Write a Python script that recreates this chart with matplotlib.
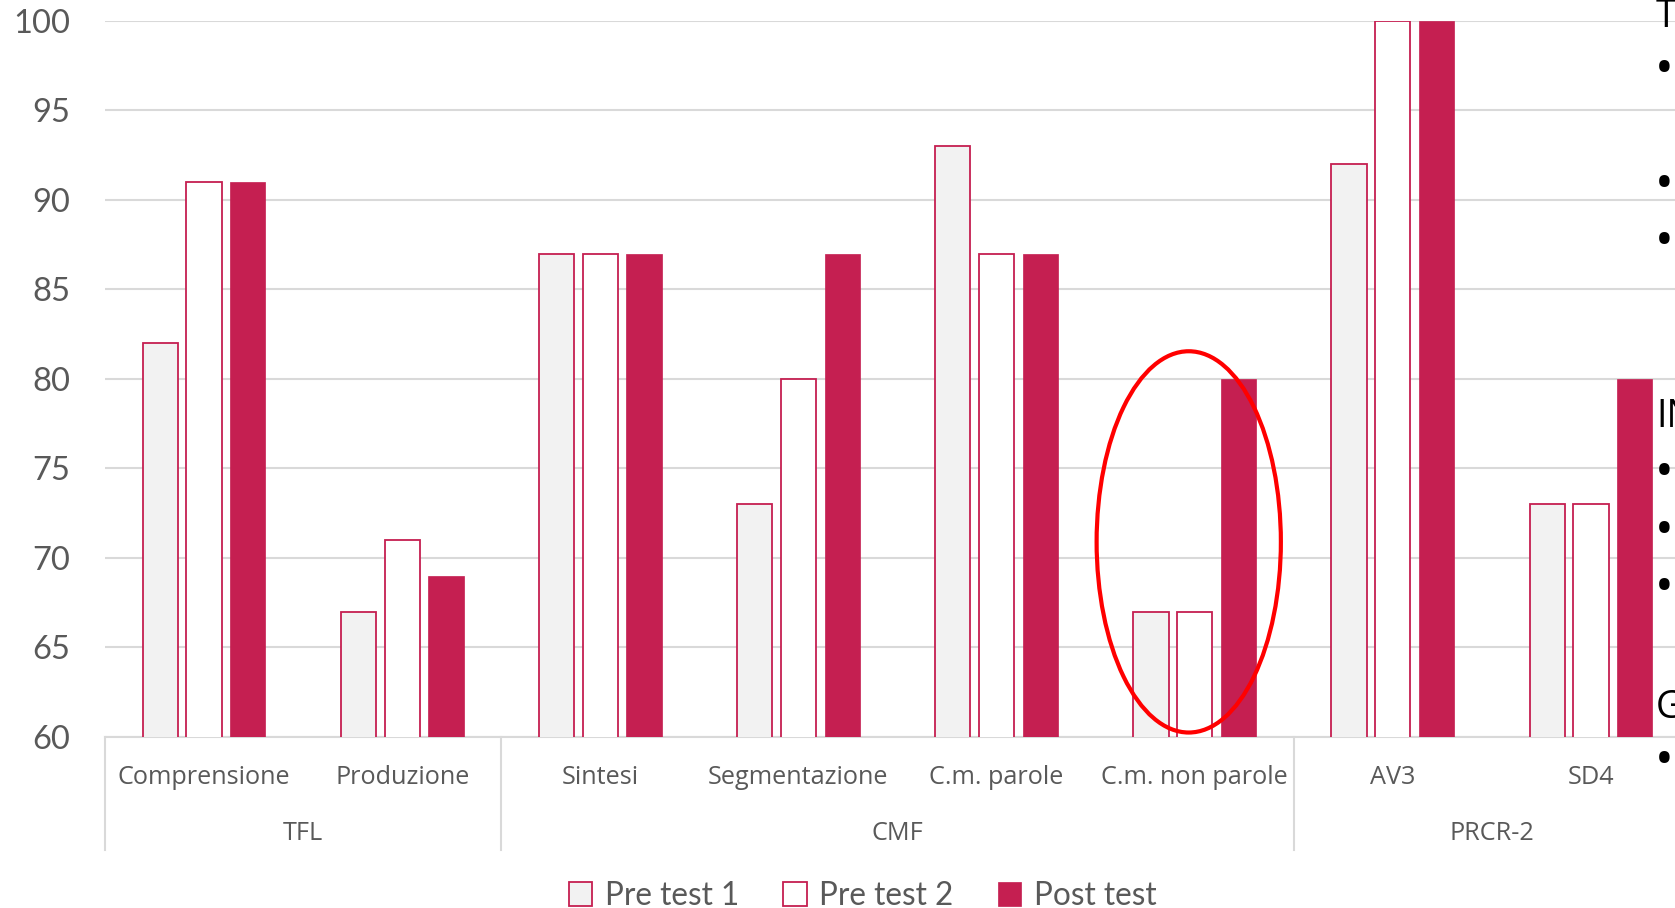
import numpy as np
import matplotlib
matplotlib.use("Agg")
import matplotlib.pyplot as plt
import matplotlib.transforms as mtransforms
from matplotlib.lines import Line2D
from matplotlib.patches import Ellipse

# data
categories = ["Comprensione", "Produzione", "Sintesi", "Segmentazione",
              "C.m. parole", "C.m. non parole", "AV3", "SD4"]
groups = ["TFL", "CMF", "PRCR-2"]
group_sizes = [2, 4, 2]
pre_test_1 = [82, 67, 87, 73, 93, 67, 92, 73]
pre_test_2 = [91, 71, 87, 80, 87, 67, 100, 73]
post_test = [91, 69, 87, 87, 87, 80, 100, 80]
y_ticks = [60, 65, 70, 75, 80, 85, 90, 95, 100]

crimson = "#C51F51"
grey_txt = "#595959"
grid_col = "#D9D9D9"

W, H = 1675, 908
fig = plt.figure(figsize=(W / 100, H / 100), dpi=100)
# axes run past the right edge of the picture (the slide crops it)
ax_left, ax_right, ax_top, ax_bot = 105, 1690, 21, 737
ax = fig.add_axes([ax_left / W, 1 - ax_bot / H, (ax_right - ax_left) / W, (ax_bot - ax_top) / H])

x = np.arange(len(categories))
bw = 0.178
step = 0.221
ax.bar(x - step, pre_test_1, bw, color="#F2F2F2", edgecolor=crimson, linewidth=1.3,
       label="Pre test 1", zorder=3)
ax.bar(x, pre_test_2, bw, color="white", edgecolor=crimson, linewidth=1.3,
       label="Pre test 2", zorder=3)
ax.bar(x + step, post_test, bw, color=crimson, edgecolor=crimson, linewidth=0.5,
       label="Post test", zorder=3)

ax.set_xlim(-0.5, len(categories) - 0.5)
ax.set_ylim(60, 100)
ax.set_yticks(y_ticks)
ax.yaxis.grid(True, color=grid_col, linewidth=1.5, zorder=0)
ax.set_axisbelow(True)
ax.tick_params(axis="y", length=0, pad=25, labelsize=23.5, labelcolor=grey_txt)
for lab in ax.get_yticklabels():
    lab.set_family("Lato")
ax.set_xticks([])
for s in ["left", "right", "top"]:
    ax.spines[s].set_visible(False)
ax.spines["bottom"].set_color(grid_col)
ax.spines["bottom"].set_linewidth(1.5)

# two-level category axis
trans = mtransforms.blended_transform_factory(ax.transData, fig.transFigure)
for xi, name in zip(x, categories):
    ax.text(xi, 1 - 778 / H, name, transform=trans, ha="center", va="center",
            fontsize=18.2, color=grey_txt, family="Open Sans")
edges = np.concatenate([[0], np.cumsum(group_sizes)]) - 0.5
for i, g in enumerate(groups):
    ax.text((edges[i] + edges[i + 1]) / 2, 1 - 834 / H, g, transform=trans, ha="center",
            va="center", fontsize=18.2, color=grey_txt, family="Open Sans")
for e in edges:
    ax.add_line(Line2D([e, e], [1 - ax_bot / H, 1 - 850 / H], transform=trans,
                       color=grid_col, linewidth=1.5, clip_on=False))

# red ellipse around C.m. non parole
ax.add_patch(Ellipse((4.97, 70.9), 0.93, 21.3, fill=False, edgecolor="#FF0000",
                     linewidth=3, zorder=5, clip_on=False))

leg = fig.legend(loc="center", bbox_to_anchor=(0.515, 1 - 896 / H), ncol=3, frameon=False,
                 handlelength=0.75, handleheight=0.75, handletextpad=0.4, columnspacing=1.4,
                 prop={"family": "Lato", "size": 22.7})
for t in leg.get_texts():
    t.set_color(grey_txt)

# slide text that overlaps the right edge
for txt, yb in [("T", 27), ("IN", 427), ("G", 718)]:
    fig.text(1656 / W, 1 - yb / H, txt, fontsize=27, family="Open Sans", color="black",
             va="baseline", ha="left")
for yc in [67, 182, 239, 470, 528, 585, 758]:
    fig.text(1655 / W, 1 - (yc + 17) / H, "\u2022", fontsize=36, family="Open Sans",
             color="black", va="baseline", ha="left")

fig.savefig("out.png", dpi=100)
